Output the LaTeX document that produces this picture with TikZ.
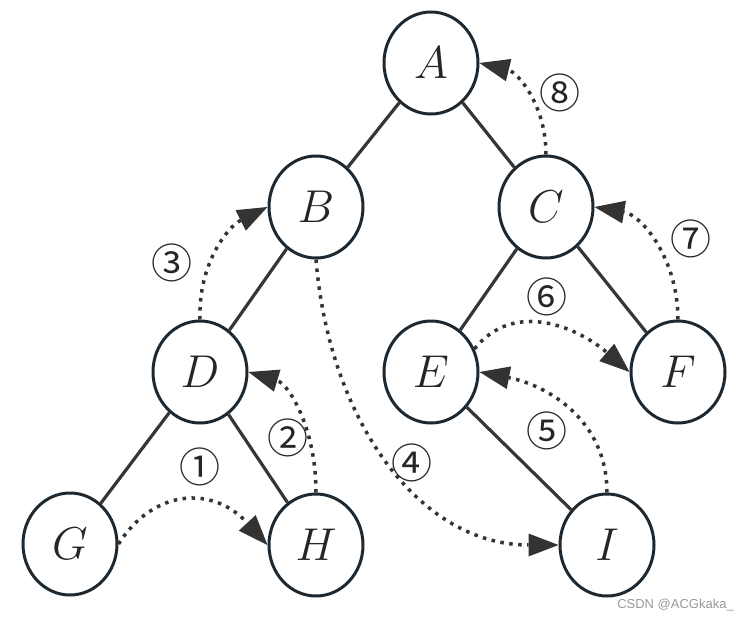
\documentclass[tikz,border=0pt]{standalone}
\usepackage{graphicx}
\usepackage{fontspec}
\newfontfamily\numfont{Noto Sans CJK SC}
\newfontfamily\wmfont{Liberation Sans}
\usetikzlibrary{arrows.meta,shapes.geometric}
\definecolor{nodeline}{HTML}{1E2830}
\definecolor{edgecol}{HTML}{363636}
\definecolor{arrcol}{HTML}{333333}
\newcommand{\bigletter}[1]{\scalebox{1.85}{$#1$}}
\begin{document}
\begin{tikzpicture}[x=1pt,y=-1pt,
  tnode/.style={ellipse, draw=nodeline, line width=3pt, minimum width=94pt, minimum height=102pt, inner sep=0pt, font=\fontsize{24.88}{28}\selectfont, text=black!85},
  tedge/.style={draw=edgecol, line width=3.2pt},
  trav/.style={draw=arrcol, line width=3.5pt, dash pattern=on 3.5pt off 5.5pt, -{Triangle[length=30pt,width=23pt,line width=0pt]}},
  lab/.style={font=\numfont\fontsize{41}{44}\selectfont, text=black!85, inner sep=0pt}]
\useasboundingbox (0,0) rectangle (749,621);
\node[tnode] (A) at (431,63) {\bigletter{A}};
\node[tnode] (B) at (316,207) {\bigletter{B}};
\node[tnode] (C) at (546,207) {\bigletter{C}};
\node[tnode] (D) at (200,372) {\bigletter{D}};
\node[tnode] (E) at (431,372) {\bigletter{E}};
\node[tnode] (F) at (678,372) {\bigletter{F}};
\node[tnode] (G) at (70,544) {\bigletter{G}};
\node[tnode] (H) at (316,545) {\bigletter{H}};
\node[tnode] (I) at (607,545) {\bigletter{I}};
\draw[tedge] (A) -- (B);
\draw[tedge] (A) -- (C);
\draw[tedge] (B) -- (D);
\draw[tedge] (C) -- (E);
\draw[tedge] (C) -- (F);
\draw[tedge] (D) -- (G);
\draw[tedge] (D) -- (H);
\draw[tedge] (E) -- (I);
% traversal arrows
\draw[trav] (G.east) .. controls +(35,-55) and +(-55,-60) .. (H.west);
\draw[trav] (H.north) .. controls +(0,-65) and +(40,12) .. (D.east);
\draw[trav] (D.north) .. controls +(-2,-55) and +(-40,20) .. (B.west);
\draw[trav] (B.south) .. controls +(13,160) and +(-140,0) .. (I.west);
\draw[trav] (I.north) .. controls +(0,-73) and +(67,13) .. (E.east);
\draw[trav] (E.28) .. controls +(40,-50) and +(-51,-44) .. (F.west);
\draw[trav] (F.north) .. controls +(0,-61) and +(47,8) .. (C.east);
\draw[trav] (C.north) .. controls +(0,-51) and +(37,9) .. (A.east);
% labels
\node[lab] (n1) at (200,467) {①};
\node[lab] (n2) at (288,438) {②};
\node[lab] (n3) at (172,263) {③};
\node[lab] (n4) at (412,463) {④};
\node[lab] (n5) at (547,431) {⑤};
\node[lab] (n6) at (547,297) {⑥};
\node[lab] (n7) at (691,239) {⑦};
\node[lab] (n8) at (560,93) {⑧};
\node[font=\wmfont\fontsize{13}{14}\selectfont, text=black!40, anchor=east, inner sep=0pt] (wm) at (734,605) {CSDN @ACGkaka\_};
\end{tikzpicture}
\end{document}
